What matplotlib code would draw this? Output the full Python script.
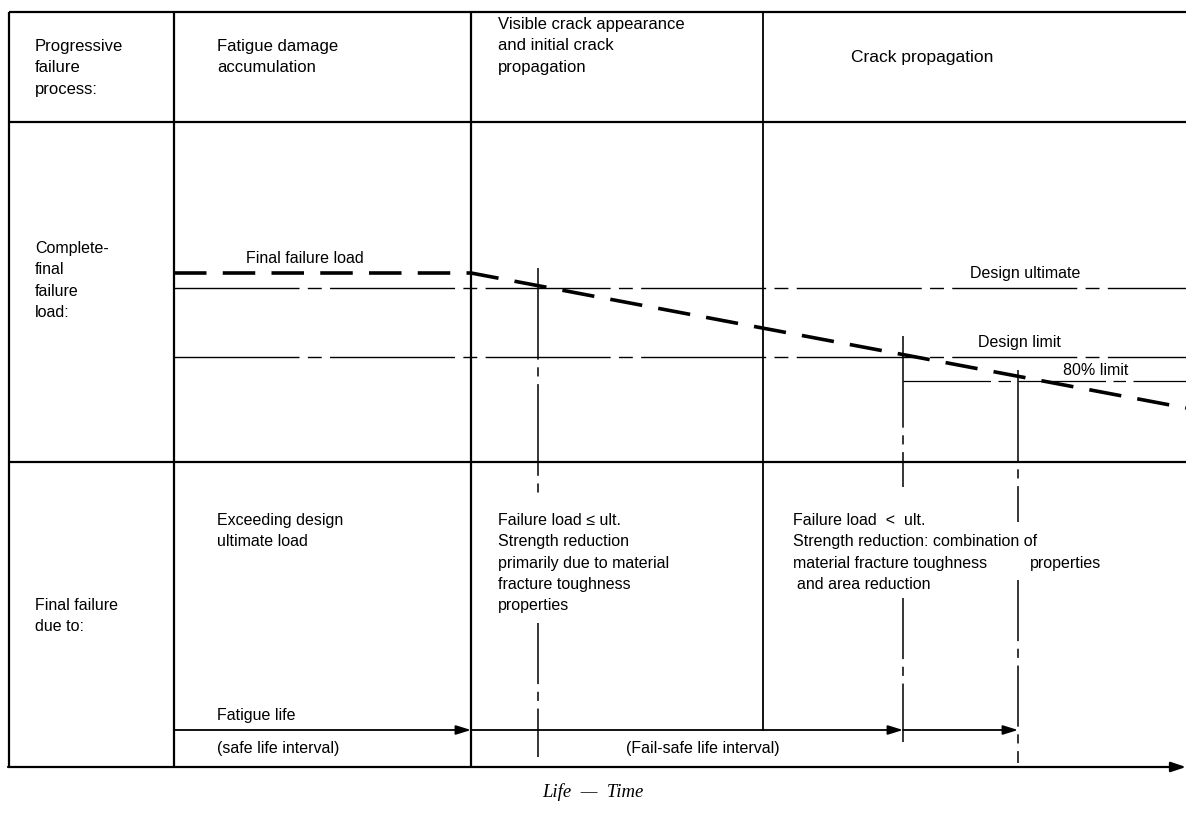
import numpy as np
import matplotlib
matplotlib.use("Agg")
import matplotlib.pyplot as plt

plt.rcParams['font.family'] = ['Liberation Sans', 'DejaVu Sans']

# layout of the diagram (picture units, y grows downward)
col_edges = [9, 174, 471, 763]
row_edges = [12, 122, 462, 767]
right_end = 1186

# load levels
ult_load = 288
limit_load = 357
pct80_load = 381

# final failure load curve (life, load)
ffl_life = [174, 471, 1186]
ffl_load = [273, 273, 408]

# event lines: crack visible, limit reached, 80% limit reached
event_life = [538, 903, 1018]
event_top = [268, 336, 370]
event_gap = [(494, 623), (487, 598), (522, 580)]
event_bottom = [757, 742, 763]

# life arrows
arrow_y = 730
arrow_starts = [174, 471, 903]
arrow_ends = [471, 903, 1018]

fs = 11.5
pitch = 21.3


def put_lines(ax, x, y0, lines, size=fs, **kw):
    for i, s in enumerate(lines):
        ax.text(x, y0 + i * pitch, s, fontsize=size, va='center_baseline', ha='left', **kw)


fig = plt.figure(figsize=(11.86, 8.14), dpi=100)
ax = fig.add_axes([0, 0, 1, 1])
ax.set_xlim(0, 1186)
ax.set_ylim(814, 0)
ax.axis('off')

frame_kw = dict(color='black', lw=1.6, solid_capstyle='butt')
# horizontal rules
for y in row_edges[:3]:
    ax.plot([col_edges[0], right_end], [y, y], **frame_kw)
# verticals
for x in col_edges[:3]:
    ax.plot([x, x], [row_edges[0], row_edges[3]], **frame_kw)
ax.plot([col_edges[3], col_edges[3]], [row_edges[0], arrow_y], color='black', lw=1.3)

# bottom time axis with arrow
ax.annotate('', xy=(right_end, row_edges[3]), xytext=(col_edges[0] - 1, row_edges[3]),
            arrowprops=dict(arrowstyle='-|>,head_length=0.9,head_width=0.3', color='black', lw=1.6,
                            shrinkA=0, shrinkB=0))

# load levels (dash-dot)
dd = (0, (90, 6, 10, 6))
ax.plot([col_edges[1], right_end], [ult_load, ult_load], color='black', lw=1.0, linestyle=dd)
ax.plot([col_edges[1], right_end], [limit_load, limit_load], color='black', lw=1.0, linestyle=dd)
ax.plot([event_life[1], right_end], [pct80_load, pct80_load], color='black', lw=0.9, linestyle=(0, (70, 6, 10, 6)))

# final failure load (thick dashed)
ax.plot(ffl_life, ffl_load, color='black', lw=2.6, linestyle=(0, (9, 4.5)))

# event verticals, broken where the text sits
for x, yt, (g0, g1), yb in zip(event_life, event_top, event_gap, event_bottom):
    ax.plot([x, x], [yt, g0], color='black', lw=1.1, linestyle=(0, (60, 5, 6, 5)))
    ax.plot([x, x], [g1, yb], color='black', lw=1.1, linestyle=(0, (40, 5, 6, 5)))

# life arrows
for x0, x1 in zip(arrow_starts, arrow_ends):
    ax.annotate('', xy=(x1, arrow_y), xytext=(x0, arrow_y),
                arrowprops=dict(arrowstyle='-|>,head_length=0.9,head_width=0.28', color='black', lw=1.3,
                                shrinkA=0, shrinkB=0))

# header row
put_lines(ax, 35, 45, ['Progressive', 'failure', 'process:'], size=12)
put_lines(ax, 217, 45, ['Fatigue damage', 'accumulation'], size=12)
put_lines(ax, 498, 23, ['Visible crack appearance', 'and initial crack', 'propagation'], size=12)
put_lines(ax, 851, 56, ['Crack propagation'], size=12.5)

# load row
put_lines(ax, 35, 247, ['Complete-', 'final', 'failure', 'load:'])
put_lines(ax, 246, 257, ['Final failure load'])
put_lines(ax, 970, 272, ['Design ultimate'])
put_lines(ax, 978, 341, ['Design limit'])
put_lines(ax, 1063, 369, ['80% limit'])

# failure cause row
put_lines(ax, 35, 604, ['Final failure', 'due to:'])
put_lines(ax, 217, 519, ['Exceeding design', 'ultimate load'])
put_lines(ax, 498, 519, ['Failure load \u2264 ult.', 'Strength reduction', 'primarily due to material',
                         'fracture toughness', 'properties'])
put_lines(ax, 793, 519, ['Failure load  <  ult.', 'Strength reduction: combination of',
                         'material fracture toughness'])
put_lines(ax, 1030, 519 + 2 * pitch, ['properties'])
put_lines(ax, 797, 519 + 3 * pitch, ['and area reduction'])

put_lines(ax, 217, 714, ['Fatigue life'])
put_lines(ax, 217, 747, ['(safe life interval)'])
put_lines(ax, 626, 747, ['(Fail-safe life interval)'])

ax.text(593, 790, 'Life  \u2014  Time', fontsize=13.5, fontstyle='italic', family=['Liberation Serif', 'DejaVu Serif'],
        ha='center', va='center_baseline')

fig.savefig('out.png', dpi=100)
